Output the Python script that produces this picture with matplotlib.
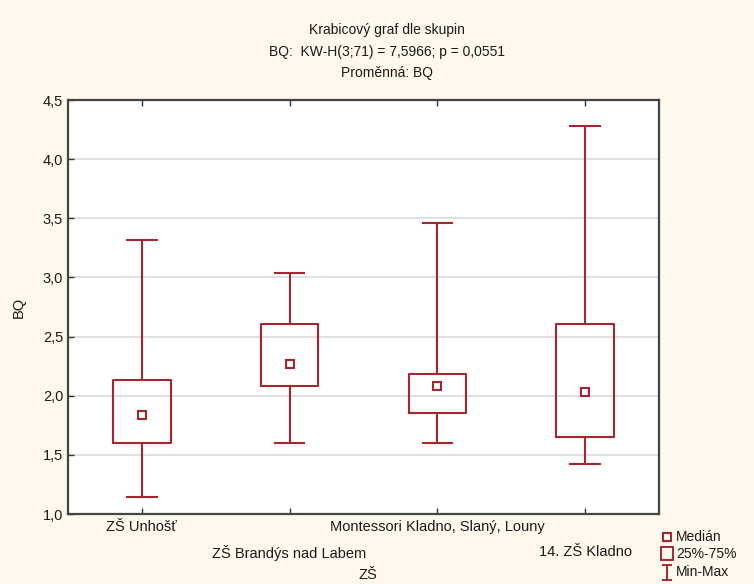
import matplotlib
matplotlib.use("Agg")
import matplotlib.pyplot as plt
from matplotlib.lines import Line2D
from matplotlib.patches import Rectangle

categories = ["ZŠ Unhošť", "ZŠ Brandýs nad Labem", "Montessori Kladno, Slaný, Louny", "14. ZŠ Kladno"]
mins = [1.14, 1.60, 1.60, 1.42]
q1s = [1.60, 2.08, 1.85, 1.65]
medians = [1.84, 2.27, 2.08, 2.03]
q3s = [2.13, 2.61, 2.18, 2.61]
maxs = [3.32, 3.04, 3.46, 4.28]
yticks = [1.0, 1.5, 2.0, 2.5, 3.0, 3.5, 4.0, 4.5]

plt.rcParams['font.family'] = ['Liberation Sans', 'DejaVu Sans']
RED = '#A3282E'
BG = '#FFF8EC'
TXT = '#1a1a1a'

fig = plt.figure(figsize=(7.54, 5.84), dpi=100, facecolor=BG)
ax = fig.add_axes([68/754, 1 - 514/584, (659-68)/754, (514-100)/584])
ax.set_facecolor('white')

positions = list(range(1, len(categories) + 1))
stats = []
for lab, lo, a, m, b, hi in zip(categories, mins, q1s, medians, q3s, maxs):
    stats.append(dict(label=lab, whislo=lo, q1=a, med=m, q3=b, whishi=hi, fliers=[]))

ax.bxp(stats, positions=positions, widths=0.39, capwidths=0.2, showfliers=False,
       boxprops=dict(color=RED, linewidth=1.5),
       whiskerprops=dict(color=RED, linewidth=1.5),
       capprops=dict(color=RED, linewidth=1.5),
       medianprops=dict(linewidth=0))
ax.plot(positions, medians, linestyle='none', marker='s', markersize=5.5,
        markerfacecolor='white', markeredgecolor=RED, markeredgewidth=1.5, zorder=5)

ax.set_xlim(0.5, 4.5)
ax.set_ylim(1.0, 4.5)
ax.set_yticks(yticks)
ax.set_yticklabels([f"{v:.1f}".replace('.', ',') for v in yticks], fontsize=10.5, color=TXT)
ax.yaxis.grid(True, color='#DADADA', linewidth=1.2)
ax.set_axisbelow(True)
ax.set_xticks(positions)
ax.set_xticklabels(categories, fontsize=10.5, color=TXT)
ax.tick_params(axis='both', direction='in', length=4, color='#333333', width=1)
ax.tick_params(axis='x', top=True)
for i, t in enumerate(ax.xaxis.get_major_ticks()):
    t.set_pad(4 if i % 2 == 0 else 22)
for s in ax.spines.values():
    s.set_color('#444444')
    s.set_linewidth(1.6)

ax.set_ylabel("BQ", fontsize=10.5, color=TXT, labelpad=12)
fig.text(368/754, 1 - 575/584, "ZŠ", ha='center', va='center', fontsize=10.5, color=TXT)

fig.text(387/754, 1 - 30/584, "Krabicový graf dle skupin", ha='center', va='center', fontsize=10, color=TXT)
fig.text(387/754, 1 - 52/584, "BQ:  KW-H(3;71) = 7,5966; p = 0,0551", ha='center', va='center', fontsize=10, color=TXT)
fig.text(387/754, 1 - 73/584, "Proměnná: BQ", ha='center', va='center', fontsize=10, color=TXT)

# legend (manual)
fig.add_artist(Line2D([667/754], [1 - 537/584], marker='s', markersize=5.5, markerfacecolor='white',
                      markeredgecolor=RED, markeredgewidth=1.5, linestyle='none'))
fig.text(676/754, 1 - 537/584, "Medián", ha='left', va='center', fontsize=10, color=TXT)
fig.add_artist(Rectangle((661/754, 1 - 560/584), 12/754, 13/584, transform=fig.transFigure,
                         facecolor='none', edgecolor=RED, linewidth=1.4))
fig.text(676/754, 1 - 554/584, "25%-75%", ha='left', va='center', fontsize=10, color=TXT)
fig.add_artist(Line2D([667/754, 667/754], [1 - 565/584, 1 - 580/584], color=RED, linewidth=1.4))
fig.add_artist(Line2D([663/754, 671/754], [1 - 565/584, 1 - 565/584], color=RED, linewidth=1.4))
fig.add_artist(Line2D([663/754, 671/754], [1 - 580/584, 1 - 580/584], color=RED, linewidth=1.4))
fig.text(676/754, 1 - 572/584, "Min-Max", ha='left', va='center', fontsize=10, color=TXT)

fig.savefig("out.png", dpi=100, facecolor=BG)
